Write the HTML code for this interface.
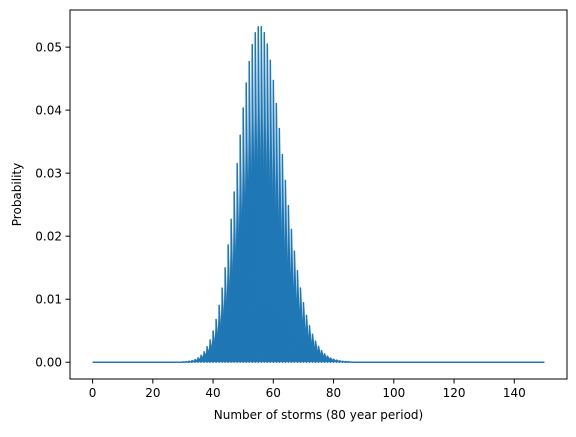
<!DOCTYPE html>
<html><head><meta charset="utf-8"><style>
body{margin:0;background:#fff}
svg text{font-family:"DejaVu Sans","Liberation Sans",sans-serif;font-size:12px;fill:#000}
</style></head><body>
<svg id="c" width="576" height="432" viewBox="0 0 576 432"></svg>
<script>
const xTicks=[0,20,40,60,80,100,120,140];
const yTicks=[0,0.01,0.02,0.03,0.04,0.05];
const yTickLabels=["0.00","0.01","0.02","0.03","0.04","0.05"];
const kMax=150;
const firstK=30;
const probs=[0.00005,0.00009,0.00016,0.00027,0.00044,0.00071,0.00111,0.00167,0.00247,0.00354,
0.00496,0.00677,0.00903,0.01176,0.01497,0.01863,0.02268,0.02702,0.03152,0.03602,
0.04035,0.04430,0.04771,0.05041,0.05228,0.05323,0.05323,0.05230,0.05049,0.04792,
0.04473,0.04106,0.03709,0.03297,0.02885,0.02485,0.02109,0.01763,0.01452,0.01178,
0.00943,0.00744,0.00578,0.00444,0.00336,0.00251,0.00185,0.00134,0.00096,0.00068,
0.00048,0.00033,0.00022,0.00015,0.00010,0.00007];
const L=70,R=567,T=10,B=379;
const NS="http://www.w3.org/2000/svg";
const svg=document.getElementById('c');
function mk(t,a){const e=document.createElementNS(NS,t);for(const k in a)e.setAttribute(k,a[k]);svg.appendChild(e);return e;}
const xmin=-kMax*0.05,xmax=kMax*1.05;
let ymax=Math.max(...probs);const ymn=-ymax*0.05,ymx=ymax*1.05;
const sx=v=>L+(v-xmin)/(xmax-xmin)*(R-L);
const sy=v=>B-(v-ymn)/(ymx-ymn)*(B-T);
function p(k){const i=k-firstK;return (i>=0&&i<probs.length)?probs[i]:0;}
let fd="";
for(let k=1;k<kMax;k++){if(p(k)>0){fd+="M"+sx(k-1).toFixed(2)+","+sy(0).toFixed(2)+"L"+sx(k).toFixed(2)+","+sy(p(k)).toFixed(2)+"L"+sx(k+1).toFixed(2)+","+sy(0).toFixed(2)+"Z";}}
let fill=mk('path',{d:fd,fill:'#1f77b4',stroke:'none'});


let d="";
for(let k=0;k<=kMax;k++){d+=(k?"L":"M")+sx(k).toFixed(2)+","+sy(0).toFixed(2)+"L"+sx(k).toFixed(2)+","+sy(p(k)).toFixed(2);}
let line=mk('path',{d:d,fill:'none',stroke:'#1f77b4','stroke-width':1.5,'stroke-linejoin':'round'});


let frame=mk('rect',{x:L,y:T,width:R-L,height:B-T,fill:'none',stroke:'#000','stroke-width':1});


xTicks.forEach(v=>{const x=sx(v);
 const tk=mk('line',{x1:x,x2:x,y1:B,y2:B+4.5,stroke:'#000','stroke-width':1});
 
 
 const t=mk('text',{x:x,y:B+18,'text-anchor':'middle'});t.textContent=v;
 
 
});
yTicks.forEach((v,i)=>{const y=sy(v);
 const tk=mk('line',{x1:L-4.5,x2:L,y1:y,y2:y,stroke:'#000','stroke-width':1});
 
 
 const t=mk('text',{x:L-8,y:y+4.5,'text-anchor':'end'});t.textContent=yTickLabels[i];
 
 
});
const xl=mk('text',{x:(L+R)/2,y:419,'text-anchor':'middle'});xl.textContent="Number of storms (80 year period)";


const yl=mk('text',{x:21,y:(T+B)/2,'text-anchor':'middle',transform:`rotate(-90 21 ${(T+B)/2})`});yl.textContent="Probability";


</script>
</body></html>
